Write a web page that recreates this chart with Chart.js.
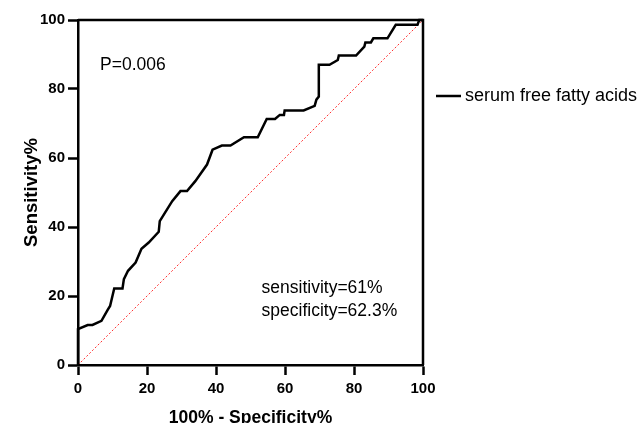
<!DOCTYPE html>
<html lang="en">
<head>
    <meta charset="UTF-8">
    <title>ROC - serum free fatty acids</title>
    <script src="https://cdn.jsdelivr.net/npm/chart.js"></script>
    <style>
        html, body { margin: 0; padding: 0; background: #fff; }
        .chart-container { width: 641px; height: 423px; position: relative; }
    </style>
</head>
<body>

<div class="chart-container">
    <canvas id="rocChart"></canvas>
</div>

<script>
    // ROC curve points (100% - specificity, sensitivity)
    const fprValues = [0, 0, 2.8, 4.2, 6.8, 8.6, 9.3, 10.5, 12.9, 13.3, 14.5, 16.7, 18.4, 20.5, 23.4, 23.7,
        27.3, 29.7, 31.6, 34, 37.4, 39, 41.7, 44.2, 48.1, 52.1, 54.7, 57.1, 58.5, 59.7, 59.9, 65.4,
        68.6, 69.1, 69.8, 69.8, 72.9, 75.3, 75.6, 80.6, 83, 83.3, 84.9, 85.6, 89.7, 92.1, 98.4, 98.9, 100];
    const tprValues = [0, 10.4, 11.6, 11.6, 12.8, 16, 17.1, 22.2, 22.2, 24.9, 27.3, 29.7, 33.7, 35.5, 38.6, 41.7,
        47.5, 50.4, 50.4, 53.3, 58.1, 62.4, 63.6, 63.6, 66, 66, 71.3, 71.3, 72.5, 72.5, 73.8, 73.8,
        75.1, 76.9, 77.8, 87, 87, 88.4, 89.7, 89.7, 92.3, 93.5, 93.5, 94.7, 94.7, 98.6, 98.6, 100, 100];
    const refLine = [0, 100];
    const tickValues = [0, 20, 40, 60, 80, 100];
    const seriesName = 'serum free fatty acids';
    const notes = ['P=0.006', 'sensitivity=61%', 'specificity=62.3%'];

    const FONT = '"Liberation Sans", Arial, sans-serif';

    const rocPoints = fprValues.map((x, i) => ({ x: x, y: tprValues[i] }));
    const refPoints = refLine.map(v => ({ x: v, y: v }));

    // box, legend and text notes
    const extras = {
        id: 'extras',
        afterDraw(chart) {
            const c = chart.ctx;
            const a = chart.chartArea;
            const xs = chart.scales.x, ys = chart.scales.y;
            c.save();
            c.strokeStyle = '#000';
            c.lineWidth = 2.5;
            c.beginPath();
            c.moveTo(a.left, a.top);
            c.lineTo(a.right, a.top);
            c.lineTo(a.right, a.bottom);
            c.stroke();

            c.fillStyle = '#000';
            c.font = '17.5px ' + FONT;
            c.textBaseline = 'middle';
            c.textAlign = 'left';
            c.fillText(notes[0], xs.getPixelForValue(6.4), ys.getPixelForValue(86.8));
            c.fillText(notes[1], xs.getPixelForValue(53.2), ys.getPixelForValue(22.3));
            c.fillText(notes[2], xs.getPixelForValue(53.2), ys.getPixelForValue(15.7));

            // legend
            c.lineWidth = 2.5;
            c.beginPath();
            c.moveTo(436, 96);
            c.lineTo(461, 96);
            c.stroke();
            c.font = '18px ' + FONT;
            c.fillText(seriesName, 465, 96);
            c.restore();
        }
    };

    const axisCommon = {
        type: 'linear',
        min: 0,
        max: 100,
        afterBuildTicks: s => { s.ticks = tickValues.map(v => ({ value: v })); },
        border: { display: true, color: '#000', width: 2.5 },
        grid: { drawOnChartArea: false, drawTicks: true, tickLength: 10, tickWidth: 2.5, tickColor: '#000' },
        ticks: { color: '#000', font: { family: FONT, size: 15, weight: 'bold' } }
    };

    new Chart(document.getElementById('rocChart').getContext('2d'), {
        type: 'scatter',
        data: {
            datasets: [{
                label: seriesName,
                data: rocPoints,
                showLine: true,
                borderColor: '#000',
                borderWidth: 2.5,
                pointRadius: 0,
                tension: 0,
                clip: false
            }, {
                label: 'reference',
                data: refPoints,
                showLine: true,
                borderColor: '#ff3030',
                borderWidth: 1,
                borderDash: [2, 2],
                pointRadius: 0,
                clip: false
            }]
        },
        options: {
            responsive: true,
            maintainAspectRatio: false,
            animation: false,
            layout: { padding: { left: 21, top: 20, right: 218, bottom: 0 } },
            plugins: {
                legend: { display: false },
                tooltip: { enabled: false }
            },
            scales: {
                x: Object.assign({}, axisCommon, {
                    position: 'bottom',
                    ticks: Object.assign({}, axisCommon.ticks, { padding: 5, maxRotation: 0 }),
                    title: { display: true, text: '100% - Specificity%', color: '#000', padding: { top: 4, bottom: -6 },
                        font: { family: FONT, size: 17.5, weight: 'bold' } },
                    afterFit: s => { s.height = 58; }
                }),
                y: Object.assign({}, axisCommon, {
                    position: 'left',
                    ticks: Object.assign({}, axisCommon.ticks, { padding: 3 }),
                    title: { display: true, text: 'Sensitivity%', color: '#000', padding: 0,
                        font: { family: FONT, size: 18.5, weight: 'bold' } },
                    afterFit: s => { s.width = 57; }
                })
            }
        },
        plugins: [extras]
    });
</script>

</body>
</html>
